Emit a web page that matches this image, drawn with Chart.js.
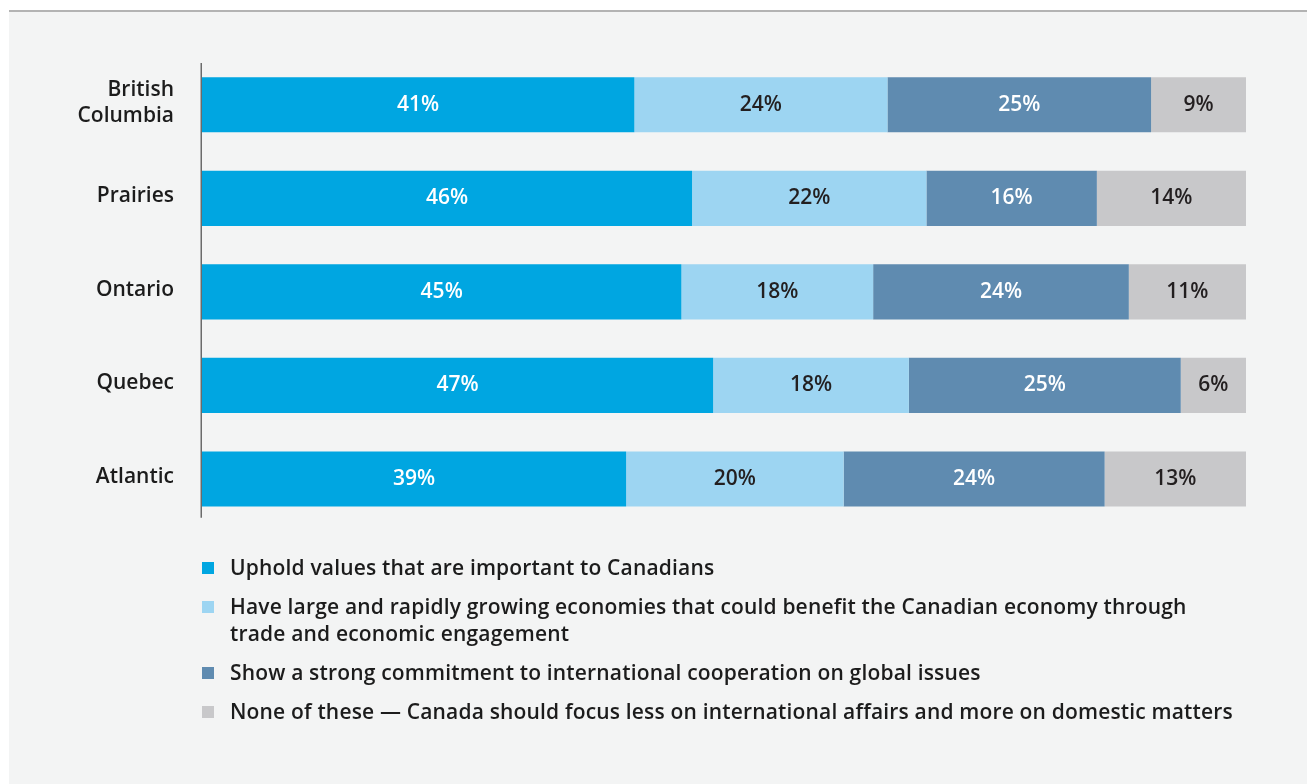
<!DOCTYPE html>
<html>
<head>
<meta charset="utf-8">
<script src="https://cdn.jsdelivr.net/npm/chart.js@4.4.1/dist/chart.umd.min.js"></script>
<style>
  html, body { margin: 0; padding: 0; width: 1307px; height: 784px; overflow: hidden; background: #fff; }
  #panel { position: absolute; left: 9px; top: 10px; right: 0; bottom: 0; background: #f3f4f4; border-top: 2px solid #b3b3b3; }
  #box { position: absolute; left: 0; top: 0; width: 1307px; height: 580px; }
  #legend { position: absolute; left: 202px; top: 554px; margin: 0; padding: 0; list-style: none;
            font-family: "Open Sans", Lato, sans-serif; font-weight: 600; font-size: 21px;
            letter-spacing: 0.17px; color: #1c1c1c; }
  #legend li { display: flex; align-items: flex-start; line-height: 27px; margin-bottom: 12px; white-space: pre; }
  #legend .sw { width: 12px; height: 12px; margin: 8px 16px 0 0; flex: none; }
</style>
</head>
<body>
<div id="panel"></div>
<div id="box"><canvas id="graph"></canvas></div>
<ul id="legend"></ul>
<script>
/* === Data === */
const regions     = [["British", "Columbia"], "Prairies", "Ontario", "Quebec", "Atlantic"];
const uphold      = [41, 46, 45, 47, 39];
const growing     = [24, 22, 18, 18, 20];
const cooperation = [25, 16, 24, 25, 24];
const noneOfThese = [9, 14, 11, 6, 13];

const seriesNames = [
  "Uphold values that are important to Canadians",
  "Have large and rapidly growing economies that could benefit the Canadian economy through\ntrade and economic engagement",
  "Show a strong commitment to international cooperation on global issues",
  "None of these \u2014 Canada should focus less on international affairs and more on domestic matters"
];
const seriesColors = ["#00a6e1", "#9dd5f2", "#5f8bb0", "#c8c8ca"];
const textColors   = ["#ffffff", "#231f20", "#ffffff", "#231f20"];

const series = [uphold, growing, cooperation, noneOfThese];
const FONT = "'Open Sans', Lato, sans-serif";

/* each row is drawn as its share of the row total so bars fill the width */
const totals = regions.map((_, i) => series.reduce((s, arr) => s + arr[i], 0));

const datasets = series.map((vals, k) => ({
  label: seriesNames[k],
  data: vals.map((v, i) => v / totals[i] * 100),
  raw: vals,
  backgroundColor: seriesColors[k],
  borderWidth: 0,
  barPercentage: 0.59,
  categoryPercentage: 1
}));

/* === Plugins === */
const axisLine = {
  id: 'axisLine',
  afterDraw(chart) {
    const { ctx, chartArea: a } = chart;
    ctx.save();
    ctx.strokeStyle = '#6b6b6b';
    ctx.lineWidth = 1.5;
    ctx.beginPath();
    ctx.moveTo(a.left - 0.75, a.top + 5);
    ctx.lineTo(a.left - 0.75, a.bottom - 8);
    ctx.stroke();
    ctx.restore();
  }
};

const barLabels = {
  id: 'barLabels',
  afterDatasetsDraw(chart) {
    const ctx = chart.ctx;
    ctx.save();
    ctx.font = `600 21px ${FONT}`;
    ctx.textAlign = 'center';
    ctx.textBaseline = 'middle';
    chart.data.datasets.forEach((ds, k) => {
      ctx.fillStyle = textColors[k];
      chart.getDatasetMeta(k).data.forEach((bar, i) => {
        ctx.fillText(ds.raw[i] + '%', (bar.x + bar.base) / 2, bar.y);
      });
    });
    ctx.restore();
  }
};

/* === Chart === */
new Chart(document.getElementById('graph'), {
  type: 'bar',
  data: { labels: regions, datasets },
  plugins: [axisLine, barLabels],
  options: {
    indexAxis: 'y',
    responsive: true,
    maintainAspectRatio: false,
    animation: false,
    layout: { padding: { top: 58, bottom: 14, right: 61, left: 0 } },
    plugins: { legend: { display: false }, tooltip: { enabled: false } },
    scales: {
      x: { stacked: true, min: 0, max: 100, display: false },
      y: {
        stacked: true,
        grid: { display: false, drawTicks: false },
        border: { display: false },
        ticks: {
          color: '#1c1c1c',
          padding: 28,
          labelOffset: -2,
          font: { family: FONT, weight: '600', size: 21, lineHeight: 1.25 }
        },
        afterFit(scale) { scale.width = 202; }
      }
    }
  }
});

/* === Legend === */
const legend = document.getElementById('legend');
seriesNames.forEach((name, k) => {
  const li = document.createElement('li');
  const sw = document.createElement('span');
  sw.className = 'sw';
  sw.style.background = seriesColors[k];
  const txt = document.createElement('span');
  txt.textContent = name;
  li.appendChild(sw);
  li.appendChild(txt);
  legend.appendChild(li);
});
</script>
</body>
</html>
